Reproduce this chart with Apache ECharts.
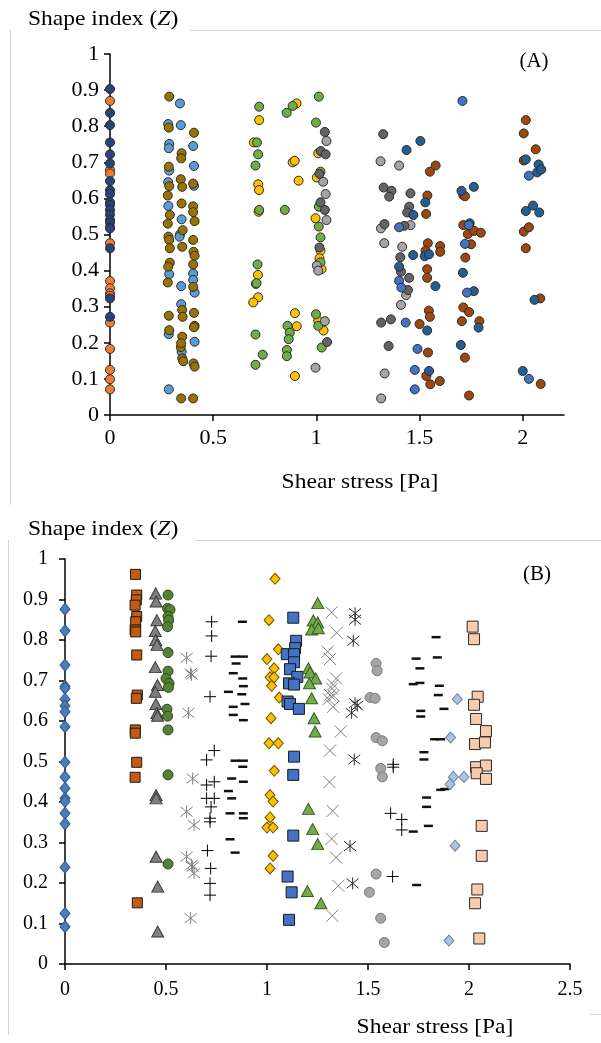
<!DOCTYPE html>
<html>
<head>
<meta charset="utf-8">
<script src="https://cdn.jsdelivr.net/npm/echarts@6/dist/echarts.min.js"></script>
<style>
  html, body { margin: 0; padding: 0; background: #ffffff; }
  #chart { width: 601px; height: 1043px; }
</style>
</head>
<body>
<div id="chart"></div>
<script>
// ---------- Panel A: shape index vs shear stress (circles) ----------
const ticksA_x = [0, 0.5, 1, 1.5, 2];
const navyA_y = [0.903, 0.837, 0.803, 0.755, 0.722, 0.697, 0.648, 0.623, 0.612, 0.589, 0.582, 0.568, 0.555, 0.540, 0.533, 0.520, 0.517, 0.462, 0.323, 0.272];
const orangeA_y = [0.870, 0.679, 0.669, 0.476, 0.371, 0.351, 0.337, 0.330, 0.256, 0.183, 0.125, 0.099, 0.071];
const lightBlueA = [[0.339,0.863],[0.282,0.806],[0.343,0.803],[0.287,0.751],[0.285,0.739],[0.403,0.745],[0.287,0.677],[0.407,0.690],[0.282,0.645],[0.407,0.635],[0.283,0.579],[0.347,0.542],[0.339,0.500],[0.337,0.494],[0.287,0.390],[0.403,0.392],[0.403,0.374],[0.345,0.357],[0.410,0.339],[0.345,0.307],[0.285,0.224],[0.347,0.175],[0.410,0.203],[0.285,0.071]];
const oliveA = [[0.287,0.882],[0.285,0.796],[0.407,0.782],[0.347,0.725],[0.345,0.711],[0.285,0.688],[0.343,0.653],[0.350,0.632],[0.287,0.634],[0.403,0.641],[0.280,0.608],[0.347,0.586],[0.290,0.554],[0.403,0.578],[0.403,0.562],[0.410,0.537],[0.280,0.530],[0.352,0.512],[0.283,0.494],[0.287,0.485],[0.403,0.485],[0.290,0.462],[0.350,0.466],[0.405,0.452],[0.410,0.441],[0.290,0.422],[0.282,0.411],[0.403,0.417],[0.280,0.367],[0.403,0.355],[0.350,0.291],[0.352,0.272],[0.285,0.275],[0.407,0.283],[0.410,0.247],[0.287,0.235],[0.407,0.243],[0.350,0.217],[0.343,0.188],[0.345,0.199],[0.350,0.157],[0.355,0.149],[0.405,0.143],[0.410,0.134],[0.345,0.046],[0.403,0.046]];
const greenA = [[0.723,0.854],[0.712,0.755],[0.718,0.722],[0.705,0.691],[0.723,0.568],[0.847,0.568],[0.856,0.837],[0.885,0.856],[1.012,0.882],[0.998,0.810],[1.020,0.674],[1.012,0.577],[1.012,0.522],[1.020,0.492],[0.715,0.417],[0.710,0.365],[0.705,0.223],[0.740,0.167],[0.705,0.139],[0.860,0.247],[0.871,0.228],[0.866,0.210],[0.857,0.180],[0.857,0.163],[1.020,0.423],[0.998,0.279],[1.009,0.247],[1.026,0.187]];
const yellowA = [[0.723,0.817],[0.697,0.755],[0.718,0.639],[0.722,0.623],[0.720,0.563],[0.904,0.863],[0.885,0.700],[0.895,0.704],[0.914,0.649],[1.009,0.725],[1.002,0.658],[0.996,0.545],[0.717,0.388],[0.707,0.363],[0.718,0.326],[0.694,0.312],[0.896,0.282],[0.905,0.246],[0.896,0.108],[1.020,0.455],[1.015,0.434],[1.025,0.404],[1.009,0.261],[1.035,0.234]];
const darkGrayA = [[1.041,0.784],[1.021,0.731],[1.045,0.722],[1.015,0.668],[1.020,0.589],[1.041,0.568],[1.015,0.464],[1.052,0.202],[1.324,0.778],[1.326,0.630],[1.364,0.621],[1.353,0.605],[1.456,0.614],[1.450,0.577],[1.440,0.561],[1.330,0.529],[1.426,0.524],[1.407,0.437],[1.410,0.397],[1.450,0.380],[1.444,0.346],[1.314,0.256],[1.361,0.265],[1.350,0.191]];
const lightGrayA = [[1.049,0.759],[1.033,0.646],[1.045,0.612],[1.049,0.540],[1.002,0.414],[1.009,0.400],[1.041,0.260],[0.996,0.131],[1.311,0.703],[1.401,0.691],[1.313,0.517],[1.456,0.526],[1.329,0.476],[1.416,0.466],[1.435,0.332],[1.410,0.305],[1.331,0.115],[1.314,0.046]];
const blueA = [[1.401,0.520],[1.401,0.372],[1.412,0.353],[1.433,0.256],[1.490,0.183],[1.477,0.125],[1.477,0.071],[1.708,0.870],[1.738,0.526],[1.720,0.474],[1.730,0.339],[2.030,0.663],[2.030,0.100]];
const darkBlueA = [[1.437,0.734],[1.504,0.759],[1.528,0.589],[1.470,0.554],[1.469,0.443],[1.525,0.440],[1.546,0.445],[1.401,0.411],[1.577,0.357],[1.537,0.234],[1.546,0.122],[1.703,0.621],[1.763,0.632],[1.743,0.531],[1.710,0.394],[1.763,0.343],[1.786,0.242],[1.700,0.194],[2.015,0.708],[2.077,0.694],[2.070,0.672],[2.090,0.680],[2.015,0.565],[2.050,0.580],[2.080,0.561],[2.057,0.319],[2.000,0.122]];
const brownA = [[1.550,0.674],[1.578,0.691],[1.538,0.608],[1.532,0.557],[1.540,0.476],[1.529,0.455],[1.600,0.468],[1.600,0.452],[1.537,0.404],[1.537,0.380],[1.500,0.252],[1.545,0.289],[1.550,0.272],[1.541,0.173],[1.533,0.108],[1.552,0.085],[1.598,0.094],[1.712,0.609],[1.720,0.606],[1.712,0.526],[1.734,0.501],[1.765,0.510],[1.797,0.505],[1.750,0.473],[1.722,0.436],[1.712,0.298],[1.740,0.285],[1.705,0.260],[1.790,0.260],[1.720,0.159],[1.740,0.054],[2.015,0.817],[2.005,0.780],[2.063,0.736],[2.005,0.705],[2.005,0.508],[2.030,0.520],[2.015,0.462],[2.085,0.323],[2.087,0.086]];

// ---------- Panel B: shape index vs shear stress (mixed markers) ----------
const ticksB_x = [0, 0.5, 1, 1.5, 2, 2.5];
const blueDiamondB_y = [0.876, 0.823, 0.738, 0.686, 0.681, 0.654, 0.637, 0.623, 0.586, 0.498, 0.462, 0.434, 0.409, 0.401, 0.372, 0.346, 0.239, 0.125, 0.092];
const orangeSquareB = [[0.349,0.962],[0.355,0.911],[0.353,0.899],[0.347,0.886],[0.355,0.858],[0.350,0.845],[0.347,0.825],[0.350,0.820],[0.355,0.763],[0.358,0.664],[0.353,0.656],[0.348,0.578],[0.348,0.570],[0.355,0.498],[0.347,0.461],[0.358,0.151]];
const grayTriangleB = [[0.449,0.915],[0.451,0.895],[0.455,0.849],[0.447,0.822],[0.449,0.800],[0.455,0.788],[0.447,0.733],[0.458,0.689],[0.447,0.672],[0.450,0.642],[0.455,0.620],[0.458,0.613],[0.451,0.417],[0.451,0.409],[0.451,0.265],[0.459,0.191],[0.459,0.080]];
const greenCircleB = [[0.510,0.911],[0.508,0.878],[0.520,0.875],[0.510,0.858],[0.513,0.849],[0.508,0.833],[0.510,0.769],[0.510,0.723],[0.500,0.705],[0.515,0.693],[0.512,0.683],[0.505,0.629],[0.508,0.612],[0.510,0.578],[0.510,0.467],[0.510,0.247]];
const grayStarB = [[0.602,0.756],[0.622,0.718],[0.627,0.714],[0.611,0.620],[0.632,0.458],[0.602,0.376],[0.639,0.343],[0.602,0.265],[0.632,0.240],[0.627,0.245],[0.639,0.224],[0.622,0.113]];
const plusLowB = [[0.726,0.845],[0.726,0.810],[0.723,0.760],[0.718,0.660],[0.739,0.527],[0.701,0.504],[0.701,0.442],[0.739,0.450],[0.701,0.409],[0.739,0.409],[0.723,0.388],[0.718,0.360],[0.718,0.351],[0.705,0.280],[0.721,0.236],[0.718,0.199],[0.718,0.170]];
const dashLowB = [[0.878,0.845],[0.842,0.759],[0.883,0.759],[0.847,0.742],[0.833,0.718],[0.880,0.705],[0.883,0.686],[0.809,0.672],[0.875,0.666],[0.833,0.635],[0.891,0.642],[0.833,0.615],[0.883,0.602],[0.842,0.502],[0.883,0.502],[0.880,0.487],[0.825,0.458],[0.883,0.450],[0.809,0.427],[0.825,0.409],[0.817,0.372],[0.883,0.372],[0.883,0.360],[0.817,0.308],[0.842,0.275]];
const yellowDiamondB = [[1.040,0.951],[1.010,0.849],[1.056,0.777],[1.000,0.753],[1.035,0.730],[1.015,0.708],[1.035,0.708],[1.023,0.687],[1.061,0.658],[1.020,0.607],[1.010,0.545],[1.056,0.545],[1.036,0.477],[1.015,0.417],[1.030,0.401],[1.015,0.362],[1.000,0.337],[1.030,0.337],[1.030,0.267],[1.015,0.236]];
const blueSquareB = [[1.130,0.855],[1.144,0.798],[1.139,0.780],[1.098,0.765],[1.134,0.765],[1.134,0.745],[1.114,0.728],[1.150,0.709],[1.109,0.693],[1.134,0.690],[1.102,0.648],[1.114,0.642],[1.158,0.630],[1.134,0.512],[1.130,0.467],[1.130,0.317],[1.102,0.216],[1.122,0.177],[1.109,0.109]];
const greenTriangleB = [[1.251,0.891],[1.229,0.848],[1.251,0.843],[1.221,0.826],[1.254,0.829],[1.205,0.730],[1.213,0.720],[1.241,0.705],[1.210,0.693],[1.221,0.656],[1.233,0.607],[1.238,0.574],[1.205,0.383],[1.226,0.333],[1.251,0.296],[1.200,0.180],[1.267,0.150]];
const grayCrossB = [[1.320,0.868],[1.345,0.818],[1.300,0.771],[1.312,0.753],[1.342,0.705],[1.327,0.690],[1.322,0.680],[1.312,0.664],[1.330,0.662],[1.305,0.654],[1.327,0.635],[1.365,0.574],[1.312,0.527],[1.309,0.449],[1.325,0.378],[1.320,0.309],[1.342,0.263],[1.353,0.193],[1.323,0.119]];
const blackStarB = [[1.436,0.866],[1.436,0.850],[1.427,0.798],[1.436,0.644],[1.447,0.638],[1.419,0.620],[1.432,0.505],[1.411,0.291],[1.424,0.199]];
const lightGrayCircleB = [[1.540,0.742],[1.545,0.724],[1.510,0.658],[1.535,0.656],[1.540,0.559],[1.571,0.551],[1.563,0.483],[1.571,0.462],[1.540,0.222],[1.507,0.177],[1.563,0.113],[1.581,0.053]];
const plusHighB = [[1.625,0.493],[1.625,0.486],[1.612,0.372],[1.667,0.357],[1.667,0.331],[1.622,0.216]];
const dashHighB = [[1.837,0.807],[1.843,0.757],[1.738,0.754],[1.757,0.730],[1.724,0.691],[1.757,0.694],[1.853,0.687],[1.848,0.664],[1.876,0.630],[1.761,0.625],[1.761,0.611],[1.830,0.555],[1.860,0.555],[1.777,0.523],[1.777,0.505],[1.790,0.411],[1.790,0.388],[1.799,0.341],[1.724,0.327],[1.860,0.430],[1.880,0.432],[1.741,0.195]];
const lightBlueDiamondB = [[1.942,0.654],[1.909,0.559],[1.922,0.462],[1.975,0.462],[1.906,0.444],[1.931,0.292],[1.901,0.058]];
const pinkSquareB = [[2.018,0.833],[2.025,0.802],[2.043,0.660],[2.025,0.640],[2.035,0.605],[2.084,0.575],[2.030,0.543],[2.079,0.547],[2.035,0.486],[2.084,0.490],[2.038,0.471],[2.084,0.457],[2.063,0.341],[2.063,0.267],[2.041,0.184],[2.030,0.150],[2.051,0.063]];

const SERIF = '"Liberation Serif", "Times New Roman", serif';
const STAR = 'path://M1,1L9,9M9,1L1,9M5,0L5,10';
const CROSS = 'path://M0,0L10,10M10,0L0,10';
const PLUS = 'path://M5,0L5,10M0,5L10,5';

function atZero(ys) { return ys.map(function (y) { return [0, y]; }); }

function circleA(data, fill) {
  return {
    type: 'scatter', xAxisIndex: 0, yAxisIndex: 0, data: data,
    symbol: 'circle', symbolSize: 9,
    itemStyle: { color: fill, borderColor: '#2b2b2b', borderWidth: 1, opacity: 1 }
  };
}
function markB(data, symbol, size, fill, border, bw) {
  return {
    type: 'scatter', xAxisIndex: 1, yAxisIndex: 1, data: data,
    symbol: symbol, symbolSize: size,
    itemStyle: { color: fill, borderColor: border, borderWidth: bw, opacity: 1 }
  };
}

function axisCommon(fontSize) {
  return {
    axisLine: { show: true, onZero: false, lineStyle: { color: '#000', width: 1.5 } },
    axisTick: { show: true, inside: false, length: 6, lineStyle: { color: '#000', width: 1.5 } },
    splitLine: { show: false },
    axisLabel: { color: '#000', fontFamily: SERIF, fontSize: fontSize }
  };
}

const xA = Object.assign(axisCommon(22), { gridIndex: 0, type: 'value', min: 0, max: 2.2, interval: 0.5 });
xA.axisLabel = Object.assign({}, xA.axisLabel, { margin: 12, customValues: ticksA_x });
xA.axisTick = Object.assign({}, xA.axisTick, { customValues: ticksA_x });
const yA = Object.assign(axisCommon(22), { gridIndex: 0, type: 'value', min: 0, max: 1, interval: 0.1 });
yA.axisLabel = Object.assign({}, yA.axisLabel, { margin: 11 });

const xB = Object.assign(axisCommon(20), { gridIndex: 1, type: 'value', min: 0, max: 2.5, interval: 0.5 });
xB.axisLabel = Object.assign({}, xB.axisLabel, { margin: 16, customValues: ticksB_x });
xB.axisTick = Object.assign({}, xB.axisTick, { customValues: ticksB_x });
const yB = Object.assign(axisCommon(20), { gridIndex: 1, type: 'value', min: 0, max: 1, interval: 0.1 });
yB.axisLabel = Object.assign({}, yB.axisLabel, { margin: 17 });

function yName(top) {
  return {
    type: 'text', left: 28, top: top, scaleX: 1.12,
    style: {
      text: '{r|Shape index (}{i|Z}{r|)}',
      rich: {
        r: { fontFamily: SERIF, fontSize: 21, fill: '#000' },
        i: { fontFamily: SERIF, fontSize: 21, fontStyle: 'italic', fill: '#000' }
      }
    }
  };
}
function plainText(x, y, txt, size, sx) {
  return {
    type: 'text', x: x, y: y, scaleX: sx || 1,
    style: { text: txt, fontFamily: SERIF, fontSize: size, fill: '#000', align: 'center', verticalAlign: 'middle' }
  };
}
function frameLine(x1, y1, x2, y2) {
  return { type: 'line', shape: { x1: x1, y1: y1, x2: x2, y2: y2 }, style: { stroke: '#d4d4d4', lineWidth: 1 }, z: -1 };
}

const option = {
  backgroundColor: '#ffffff',
  animation: false,
  grid: [
    { left: 110, top: 54, width: 454, height: 361 },
    { left: 65, top: 559, width: 505, height: 405 }
  ],
  xAxis: [xA, xB],
  yAxis: [yA, yB],
  graphic: [
    frameLine(190, 30.5, 601, 30.5),
    frameLine(10.5, 30, 10.5, 505),
    frameLine(195, 540.5, 601, 540.5),
    frameLine(8.5, 540, 8.5, 1035),
    frameLine(590, 1014.5, 601, 1014.5),
    yName(9),
    yName(519),
    plainText(534, 61, '(A)', 21),
    plainText(537, 574, '(B)', 21),
    plainText(360, 482, 'Shear stress [Pa]', 21, 1.12),
    plainText(435, 1027, 'Shear stress [Pa]', 21, 1.12)
  ],
  series: [
    circleA(atZero(orangeA_y), '#ED7D31'),
    circleA(atZero(navyA_y), '#264478'),
    circleA(lightBlueA, '#5B9BD5'),
    circleA(oliveA, '#997300'),
    circleA(yellowA, '#FFC000'),
    circleA(greenA, '#70AD47'),
    circleA(lightGrayA, '#A5A5A5'),
    circleA(darkGrayA, '#636363'),
    circleA(brownA, '#9E480E'),
    circleA(darkBlueA, '#255E91'),
    circleA(blueA, '#4472C4'),

    markB(atZero(blueDiamondB_y), 'diamond', [10, 12], '#4A7EBB', '#2E5A8A', 1),
    markB(orangeSquareB, 'rect', 10, '#C55A11', '#1a1a1a', 1),
    markB(grayTriangleB, 'triangle', [12, 11], '#7F7F7F', '#3a3a3a', 1),
    markB(greenCircleB, 'circle', 10, '#548235', '#2c4a1a', 1),
    markB(grayStarB, STAR, 12, 'transparent', '#7F7F7F', 1),
    markB(plusLowB, PLUS, 12, 'transparent', '#000000', 1),
    markB(dashLowB, 'rect', [9, 2.5], '#111111', '#111111', 0),
    markB(yellowDiamondB, 'diamond', [10, 11], '#FFC000', '#6b5200', 1),
    markB(blueSquareB, 'rect', 11, '#4472C4', '#1a1a1a', 1),
    markB(greenTriangleB, 'triangle', [12, 11], '#70AD47', '#3a5a25', 1),
    markB(grayCrossB, CROSS, 12, 'transparent', '#7F7F7F', 1),
    markB(blackStarB, STAR, 12, 'transparent', '#2a2a2a', 1),
    markB(lightGrayCircleB, 'circle', 10, '#A5A5A5', '#7a7a7a', 1),
    markB(plusHighB, PLUS, 12, 'transparent', '#000000', 1),
    markB(dashHighB, 'rect', [9, 2.5], '#111111', '#111111', 0),
    markB(lightBlueDiamondB, 'diamond', [10, 11], '#A9C4E4', '#6f7f99', 1),
    markB(pinkSquareB, 'rect', 11, '#F8CBAD', '#2a2a2a', 1)
  ]
};

const chart = echarts.init(document.getElementById('chart'), null, { renderer: 'canvas' });
chart.setOption(option);
</script>
</body>
</html>
